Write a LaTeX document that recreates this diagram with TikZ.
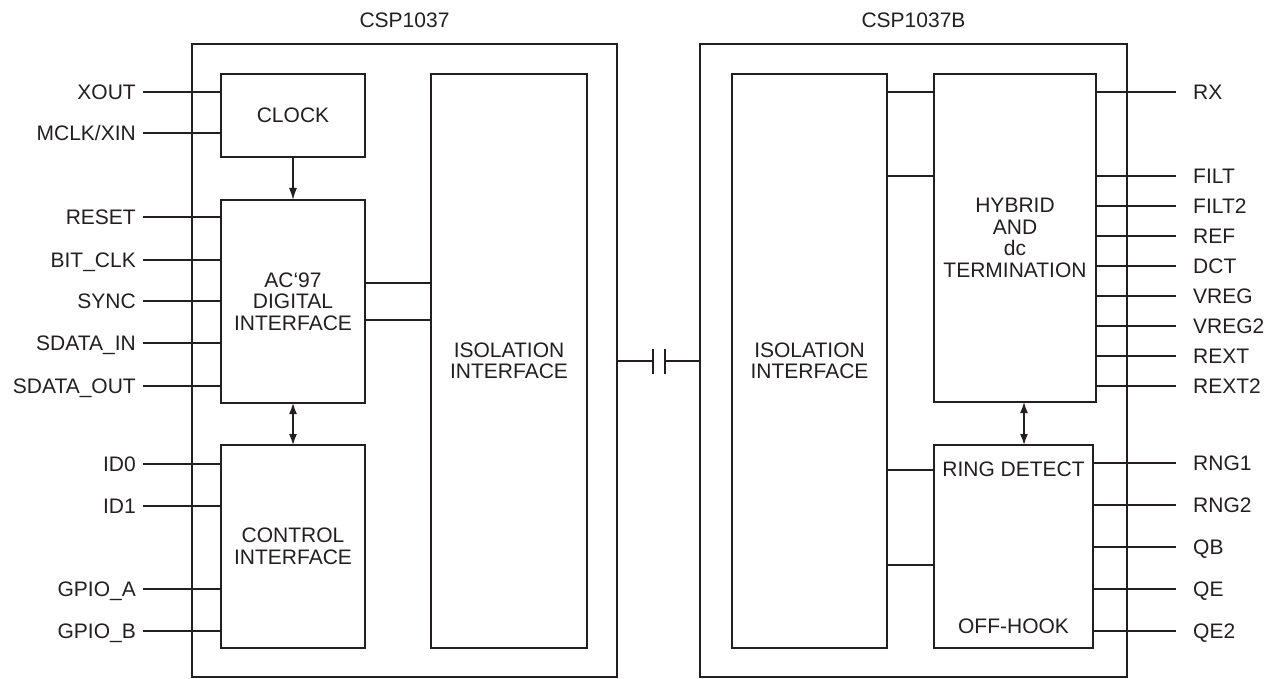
\documentclass[tikz,border=0pt]{standalone}
\usepackage{fontspec}
\setmainfont{Liberation Sans}
\definecolor{ChipInk}{RGB}{35,31,32}
\usetikzlibrary{arrows.meta,positioning}

\begin{document}
\begin{tikzpicture}[
        x=1pt, y=-1pt, color=ChipInk,
        font=\fontsize{21}{21.5}\selectfont,
        block/.style={draw, line width=2.6pt, inner sep=0pt, outer sep=0pt, align=center},
        wire/.style={line width=1.6pt},
        pinl/.style={anchor=east, inner xsep=7pt, inner ysep=0pt, text height=15pt, text depth=0pt},
        pinr/.style={anchor=west, inner xsep=17pt, inner ysep=0pt, text height=15pt, text depth=0pt},
        arr/.style={wire, -{Latex[length=12pt,width=8pt]}},
        darr/.style={wire, {Latex[length=11pt,width=8pt]}-{Latex[length=11pt,width=8pt]}}
    ]
        \useasboundingbox (0,0) rectangle (1270,679);
        % chips
        \node[block, minimum width=425pt, minimum height=633pt] (csp)  at (404.5,360.5) {};
        \node[block, minimum width=427pt, minimum height=633pt] (cspb) at (913.5,360.5) {};
        \node (csptitle)  at (404.5,20) {CSP1037};
        \node (cspbtitle) at (913.5,20) {CSP1037B};
        % CSP1037 blocks
        \node[block, minimum width=144pt, minimum height=83pt]  (clock) at (293,115.5) {CLOCK};
        \node[block, minimum width=144pt, minimum height=203pt] (ac97)  at (293,301.5) {AC‘97\\DIGITAL\\INTERFACE};
        \node[block, minimum width=144pt, minimum height=203pt] (ctrl)  at (293,546.5) {CONTROL\\INTERFACE};
        \node[block, minimum width=156pt, minimum height=574pt] (isoL)  at (509,361) {ISOLATION\\INTERFACE};
        % CSP1037B blocks
        \node[block, minimum width=155pt, minimum height=574pt] (isoR)   at (809.5,361) {ISOLATION\\INTERFACE};
        \node[block, minimum width=162pt, minimum height=328pt] (hybrid) at (1015,238) {HYBRID\\AND\\dc\\TERMINATION};
        \node[block, minimum width=159pt, minimum height=203pt] (ring)   at (1013.5,546.5) {};
        \node (ringtxt) at ([yshift=-24pt]ring.north) {RING DETECT};
        \node (hooktxt) at ([yshift=22pt]ring.south)  {OFF-HOOK};

        % arrows
        \draw[arr]  (clock) -- (ac97);
        \draw[darr] (ac97)  -- (ctrl);
        \coordinate (harr) at (1024,0);
        \draw[darr] (hybrid.south -| harr) -- (ring.north -| harr);

        % internal links
        \draw[wire] (ac97.east |- 0,283) -- (isoL.west |- 0,283);
        \draw[wire] (ac97.east |- 0,320) -- (isoL.west |- 0,320);
        \draw[wire] (isoR.east |- 0,92)  -- (hybrid.west |- 0,92);
        \draw[wire] (isoR.east |- 0,176) -- (hybrid.west |- 0,176);
        \draw[wire] (isoR.east |- 0,470) -- (ring.west |- 0,470);
        \draw[wire] (isoR.east |- 0,565) -- (ring.west |- 0,565);

        % isolation capacitor
        \coordinate (capL) at (653,361);
        \coordinate (capR) at (665,361);
        \draw[wire] (csp.east |- capL) -- (capL);
        \draw[wire] (capR) -- (cspb.west |- capR);
        \draw[wire] ([yshift=12.5pt]capL) -- ([yshift=-12.5pt]capL);
        \draw[wire] ([yshift=12.5pt]capR) -- ([yshift=-12.5pt]capR);

        % left pins
        \node[pinl] (xout)  at (143,92)  {XOUT};
        \node[pinl] (mclk)  at (143,133) {MCLK/XIN};
        \node[pinl] (reset) at (143,217) {RESET};
        \node[pinl] (bclk)  at (143,260) {BIT\_CLK};
        \node[pinl] (sync)  at (143,301) {SYNC};
        \node[pinl] (sdin)  at (143,343) {SDATA\_IN};
        \node[pinl] (sdout) at (143,386) {SDATA\_OUT};
        \node[pinl] (id0)   at (143,464) {ID0};
        \node[pinl] (id1)   at (143,506) {ID1};
        \node[pinl] (gpioa) at (143,589) {GPIO\_A};
        \node[pinl] (gpiob) at (143,631) {GPIO\_B};
        \draw[wire] (xout.east)  -- (clock.west |- xout.east);
        \draw[wire] (mclk.east)  -- (clock.west |- mclk.east);
        \draw[wire] (reset.east) -- (ac97.west |- reset.east);
        \draw[wire] (bclk.east)  -- (ac97.west |- bclk.east);
        \draw[wire] (sync.east)  -- (ac97.west |- sync.east);
        \draw[wire] (sdin.east)  -- (ac97.west |- sdin.east);
        \draw[wire] (sdout.east) -- (ac97.west |- sdout.east);
        \draw[wire] (id0.east)   -- (ctrl.west |- id0.east);
        \draw[wire] (id1.east)   -- (ctrl.west |- id1.east);
        \draw[wire] (gpioa.east) -- (ctrl.west |- gpioa.east);
        \draw[wire] (gpiob.east) -- (ctrl.west |- gpiob.east);

        % right pins
        \node[pinr] (rx)    at (1176,92)  {RX};
        \node[pinr] (filt)  at (1176,176) {FILT};
        \node[pinr] (filt2) at (1176,206) {FILT2};
        \node[pinr] (ref)   at (1176,236) {REF};
        \node[pinr] (dct)   at (1176,266) {DCT};
        \node[pinr] (vreg)  at (1176,296) {VREG};
        \node[pinr] (vreg2) at (1176,326) {VREG2};
        \node[pinr] (rext)  at (1176,356) {REXT};
        \node[pinr] (rext2) at (1176,386) {REXT2};
        \node[pinr] (rng1)  at (1176,463) {RNG1};
        \node[pinr] (rng2)  at (1176,505) {RNG2};
        \node[pinr] (qb)    at (1176,547) {QB};
        \node[pinr] (qe)    at (1176,589) {QE};
        \node[pinr] (qe2)   at (1176,631) {QE2};
        \draw[wire] (hybrid.east |- rx.west)    -- (rx.west);
        \draw[wire] (hybrid.east |- filt.west)  -- (filt.west);
        \draw[wire] (hybrid.east |- filt2.west) -- (filt2.west);
        \draw[wire] (hybrid.east |- ref.west)   -- (ref.west);
        \draw[wire] (hybrid.east |- dct.west)   -- (dct.west);
        \draw[wire] (hybrid.east |- vreg.west)  -- (vreg.west);
        \draw[wire] (hybrid.east |- vreg2.west) -- (vreg2.west);
        \draw[wire] (hybrid.east |- rext.west)  -- (rext.west);
        \draw[wire] (hybrid.east |- rext2.west) -- (rext2.west);
        \draw[wire] (ring.east |- rng1.west)    -- (rng1.west);
        \draw[wire] (ring.east |- rng2.west)    -- (rng2.west);
        \draw[wire] (ring.east |- qb.west)      -- (qb.west);
        \draw[wire] (ring.east |- qe.west)      -- (qe.west);
        \draw[wire] (ring.east |- qe2.west)     -- (qe2.west);
    \end{tikzpicture}
\end{document}
